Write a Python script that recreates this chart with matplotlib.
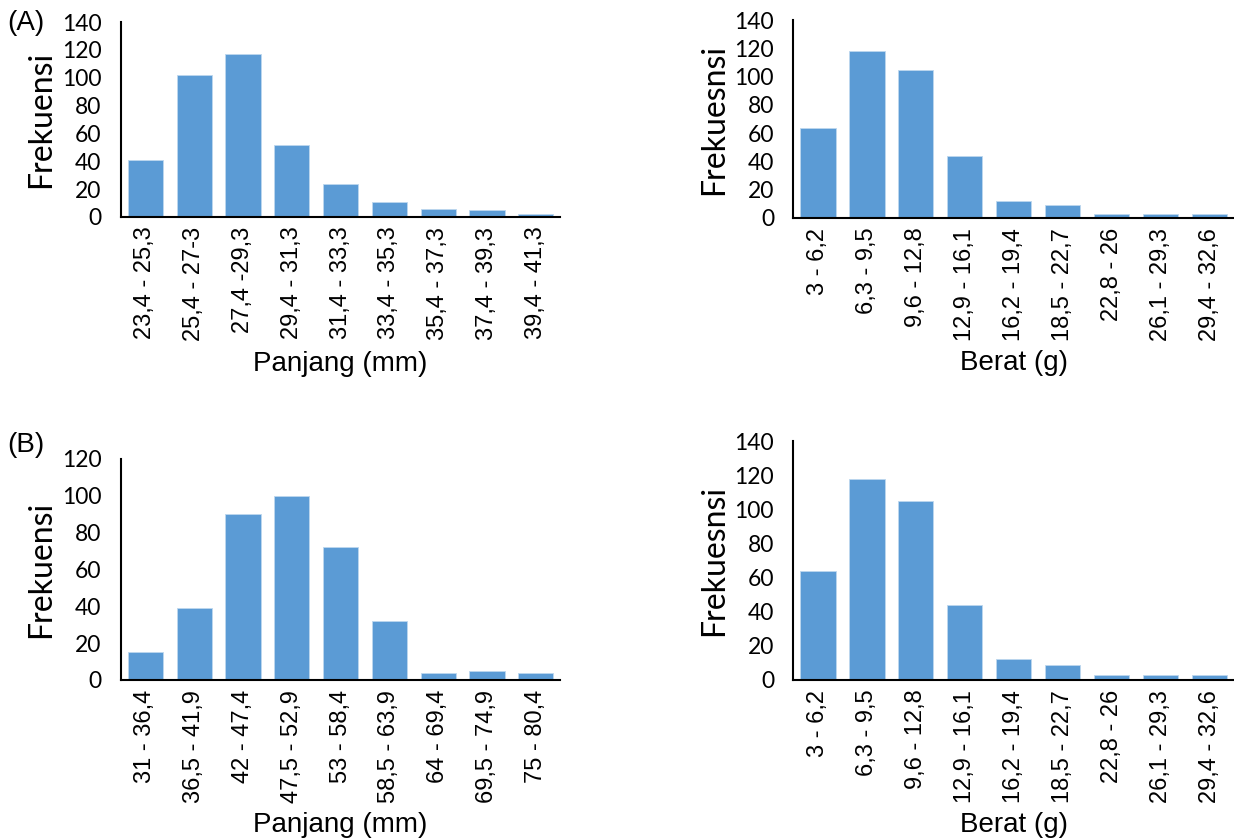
import matplotlib
matplotlib.use("Agg")
import matplotlib.pyplot as plt

# (A) panjang / berat
panjang_a_labels = ["23,4 - 25,3", "25,4 - 27-3", "27,4 -29,3", "29,4 - 31,3", "31,4 - 33,3",
                    "33,4 - 35,3", "35,4 - 37,3", "37,4 - 39,3", "39,4 - 41,3"]
panjang_a_freq = [41, 102, 117, 52, 24, 11, 6, 5, 2]

berat_labels = ["3 - 6,2", "6,3 - 9,5", "9,6 - 12,8", "12,9 - 16,1", "16,2 - 19,4",
                "18,5 - 22,7", "22,8 - 26", "26,1 - 29,3", "29,4 - 32,6"]
berat_a_freq = [64, 118, 105, 44, 12, 9, 3, 3, 3]

# (B) panjang / berat
panjang_b_labels = ["31 - 36,4", "36,5 - 41,9", "42 - 47,4", "47,5 - 52,9", "53 - 58,4",
                    "58,5 - 63,9", "64 - 69,4", "69,5 - 74,9", "75 - 80,4"]
panjang_b_freq = [15, 39, 90, 100, 72, 32, 4, 5, 4]
berat_b_freq = [64, 118, 105, 44, 12, 9, 3, 3, 3]

BAR_COLOR = "#5B9BD5"
TICK_FONT = "Liberation Sans"
Y_FONT = "Lato"


def draw_hist(ax, labels, freq, ymax, ylabel, xlabel):
    x = range(len(labels))
    ax.bar(x, freq, width=0.72, color=BAR_COLOR, edgecolor="#BDD7EE", linewidth=0.6)
    ax.set_xlim(-0.5, len(labels) - 0.5)
    ax.set_ylim(0, ymax)
    ax.set_yticks(range(0, ymax + 1, 20))
    ax.set_xticks(list(x))
    ax.set_xticklabels(labels, rotation=90, fontsize=17, family=TICK_FONT)
    for t in ax.get_yticklabels():
        t.set_family(Y_FONT)
        t.set_fontsize(16.5)
    ax.tick_params(axis="x", length=0, pad=7)
    ax.tick_params(axis="y", length=0, pad=14)
    ax.set_ylabel(ylabel, fontsize=23, family=Y_FONT, labelpad=4)
    ax.set_xlabel(xlabel, fontsize=20, family=TICK_FONT, labelpad=7)
    ax.spines["top"].set_visible(False)
    ax.spines["right"].set_visible(False)
    ax.spines["left"].set_linewidth(1.5)
    ax.spines["bottom"].set_linewidth(1.5)


fig = plt.figure(figsize=(12.34, 8.4), dpi=100)

ax1 = fig.add_axes([0.098, 0.7417, 0.356, 0.232])
ax2 = fig.add_axes([0.643, 0.7405, 0.357, 0.2355])
ax3 = fig.add_axes([0.098, 0.1905, 0.356, 0.2631])
ax4 = fig.add_axes([0.643, 0.1905, 0.357, 0.2845])

draw_hist(ax1, panjang_a_labels, panjang_a_freq, 140, "Frekuensi", "Panjang (mm)")
draw_hist(ax2, berat_labels, berat_a_freq, 140, "Frekuesnsi", "Berat (g)")
draw_hist(ax3, panjang_b_labels, panjang_b_freq, 120, "Frekuensi", "Panjang (mm)")
draw_hist(ax4, berat_labels, berat_b_freq, 140, "Frekuesnsi", "Berat (g)")

fig.text(0.006, 0.973, "(A)", fontsize=20, family=TICK_FONT, va="center")
fig.text(0.006, 0.47, "(B)", fontsize=20, family=TICK_FONT, va="center")

fig.savefig("out.png", dpi=100)
